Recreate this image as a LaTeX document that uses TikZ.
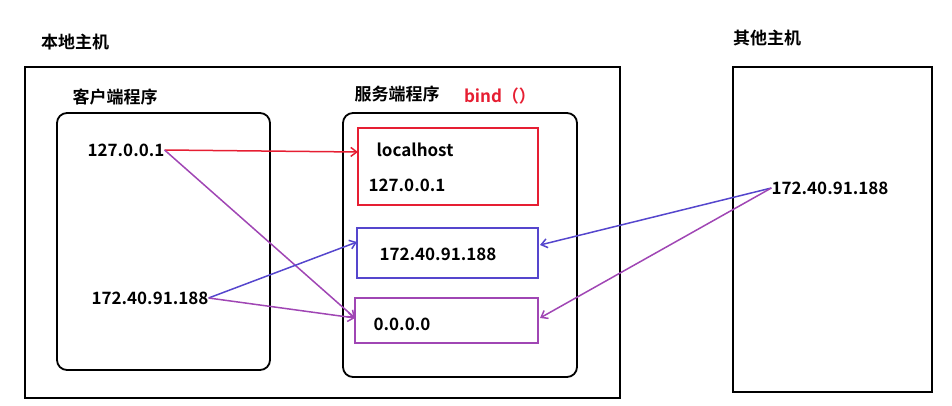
\documentclass[tikz,border=0pt]{standalone}
\usepackage{fontspec}
\setmainfont{Noto Sans CJK SC}[BoldFont={Noto Sans CJK SC Bold}]
\usetikzlibrary{arrows.meta}
\definecolor{cred}{RGB}{230,30,50}
\definecolor{cblue}{RGB}{85,70,205}
\definecolor{cpur}{RGB}{160,70,180}
\begin{document}
\begin{tikzpicture}[x=1pt,y=-1pt,
  t/.style={font=\bfseries\fontsize{17}{20}\selectfont,inner sep=0pt},
  box/.style={draw,line width=1.8pt},
  rbox/.style={draw,line width=1.8pt,rounded corners=10pt},
  ar/.style={line width=1.5pt,-{Straight Barb[length=6pt,width=9pt]}}]
\useasboundingbox (0,0) rectangle (952,406);
\node[t] (l1) at (75,42) {本地主机};
\draw[box] (25,67) rectangle (620,398);
\node[t] (l2) at (115,97) {客户端程序};
\draw[rbox] (57,113) rectangle (270,370);
\node[t] (c1) at (126,150) {127.0.0.1};
\node[t] (c2) at (150,298) {172.40.91.188};
\node[t] (l3) at (397,94) {服务端程序};
\node[t,text=cred] (bind) at (500,96) {bind（）};
\draw[rbox] (343,113) rectangle (577,377);
\draw[box,cred] (358,128) rectangle (538,205);
\coordinate (r) at (358,152);
\node[t] at (415,150) {localhost};
\node[t] at (407,185) {127.0.0.1};
\draw[box,cblue] (357,228) rectangle (538,278);
\node[t] at (438,254) {172.40.91.188};
\coordinate (bl) at (357,242); \coordinate (br) at (540,245);
\draw[box,cpur] (355,298) rectangle (538,343);
\node[t] at (402,324) {0.0.0.0};
\coordinate (pl) at (355,318); \coordinate (pr) at (540,318);
\node[t] (l4) at (767,38) {其他主机};
\draw[box] (733,67) rectangle (932,392);
\node[t] (o1) at (830,188) {172.40.91.188};
\draw[ar,cred] (c1.east) -- (r);
\draw[ar,cpur] (c1.east) -- (pl);
\draw[ar,cblue] (c2.east) -- (bl);
\draw[ar,cpur] (c2.east) -- (pl);
\draw[ar,cblue] (o1.west) -- (br);
\draw[ar,cpur] (o1.west) -- (pr);
\end{tikzpicture}
\end{document}
